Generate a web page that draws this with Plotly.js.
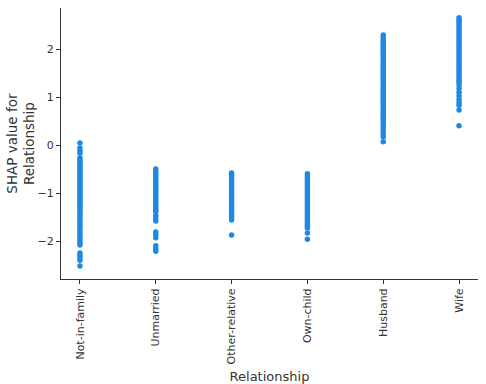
<!DOCTYPE html>
<html><head><meta charset="utf-8">
<script src="https://cdn.plot.ly/plotly-3.0.1.min.js"></script>
<style>html,body{margin:0;padding:0;background:#fff}#c{width:486px;height:384px}</style>
</head><body><div id="c"></div>
<script>
const categories = ["Not-in-family","Unmarried","Other-relative","Own-child","Husband","Wife"];
const notInFamily = [0.04,-0.06,-0.12,-0.17,-0.27,-0.31,-0.35,-0.39,-0.43,-0.47,-0.51,-0.55,-0.59,-0.63,-0.67,-0.71,-0.75,-0.79,-0.83,-0.87,-0.91,-0.95,-0.99,-1.03,-1.07,-1.11,-1.15,-1.19,-1.23,-1.27,-1.31,-1.35,-1.40,-1.46,-1.52,-1.57,-1.62,-1.67,-1.72,-1.77,-1.83,-1.88,-1.94,-1.99,-2.04,-2.08,-2.25,-2.30,-2.35,-2.40,-2.52];
const unmarried = [-0.5,-0.55,-0.6,-0.65,-0.7,-0.75,-0.8,-0.85,-0.9,-0.95,-1.0,-1.05,-1.1,-1.15,-1.2,-1.25,-1.3,-1.35,-1.38,-1.46,-1.52,-1.58,-1.81,-1.87,-1.93,-2.10,-2.16,-2.21];
const otherRelative = [-0.58,-0.63,-0.68,-0.73,-0.78,-0.83,-0.88,-0.93,-0.98,-1.03,-1.08,-1.13,-1.18,-1.23,-1.28,-1.33,-1.38,-1.43,-1.48,-1.52,-1.56,-1.875];
const ownChild = [-0.6,-0.65,-0.7,-0.75,-0.8,-0.85,-0.9,-0.95,-1.0,-1.05,-1.1,-1.15,-1.2,-1.25,-1.3,-1.35,-1.4,-1.45,-1.5,-1.55,-1.6,-1.65,-1.69,-1.73,-1.83,-1.96];
const husband = [2.29,2.24,2.19,2.14,2.09,2.04,1.99,1.94,1.89,1.84,1.79,1.74,1.69,1.64,1.59,1.54,1.49,1.44,1.39,1.34,1.29,1.24,1.19,1.14,1.09,1.04,0.99,0.94,0.89,0.84,0.79,0.74,0.69,0.64,0.59,0.54,0.48,0.42,0.36,0.30,0.24,0.17,0.07];
const wife = [2.65,2.60,2.55,2.50,2.45,2.40,2.35,2.30,2.25,2.20,2.15,2.10,2.05,2.00,1.95,1.90,1.85,1.80,1.75,1.70,1.65,1.60,1.55,1.50,1.45,1.40,1.35,1.31,1.25,1.18,1.10,1.02,0.95,0.88,0.83,0.73,0.40];
const series = [notInFamily, unmarried, otherRelative, ownChild, husband, wife];
const yTitle = 'SHAP value for<br>Relationship';
const xTitle = 'Relationship';

const xs = [], ys = [];
series.forEach((arr, i) => arr.forEach(v => { xs.push(categories[i]); ys.push(v); }));

const trace = {
  type: 'scatter', mode: 'markers', x: xs, y: ys,
  marker: {color: '#1E88E5', size: 5.5, line: {width: 0}},
  hoverinfo: 'none'
};
const font = {family: 'DejaVu Sans, sans-serif', color: '#333'};
const layout = {
  width: 486, height: 384,
  margin: {l: 61, r: 8, t: 8, b: 105},
  paper_bgcolor: '#fff', plot_bgcolor: '#fff',
  showlegend: false,
  font: font,
  xaxis: {
    type: 'category', categoryorder: 'array', categoryarray: categories,
    range: [-0.25, 5.25], tickangle: -90,
    showgrid: false, zeroline: false, showline: true, linecolor: '#333', linewidth: 1,
    ticks: 'outside', ticklen: 4, tickcolor: '#333',
    tickfont: {size: 11, color: '#333', family: 'DejaVu Sans, sans-serif'},
    title: {text: xTitle, font: {size: 13, color: '#333'}, standoff: 10}
  },
  yaxis: {
    range: [-2.79, 2.854], tickvals: [-2,-1,0,1,2],
    showgrid: false, zeroline: false, showline: true, linecolor: '#333', linewidth: 1,
    ticks: 'outside', ticklen: 4, tickcolor: '#333',
    tickfont: {size: 11, color: '#333', family: 'DejaVu Sans, sans-serif'}
  },
  annotations: [{
    text: yTitle, textangle: -90, showarrow: false,
    xref: 'paper', yref: 'paper', x: -0.098, y: 0.5, xanchor: 'center', yanchor: 'middle',
    font: {size: 13.5, color: '#333', family: 'DejaVu Sans, sans-serif'}
  }]
};
Plotly.newPlot('c', [trace], layout, {staticPlot: true, displayModeBar: false});
</script>
</body></html>
